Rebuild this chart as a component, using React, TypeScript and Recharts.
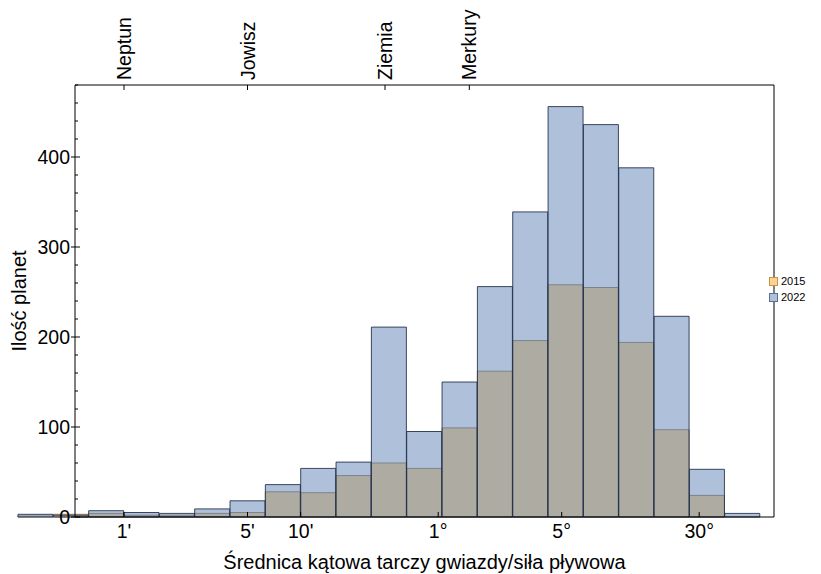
import React from 'react';
import { BarChart, Bar, XAxis, YAxis, Legend, Label } from 'recharts';

// histogram bins: centres in log10(arcmin), width 0.2
const binCenters = [-0.5, -0.3, -0.1, 0.1, 0.3, 0.5, 0.7, 0.9, 1.1, 1.3, 1.5, 1.7, 1.9, 2.1, 2.3, 2.5, 2.7, 2.9, 3.1, 3.3, 3.5];
const counts2015 = [1, 3, 4, 2, 2, 4, 5, 28, 27, 46, 60, 54, 99, 162, 196, 258, 255, 194, 97, 24, 0];
const counts2022 = [3, 2, 7, 5, 4, 9, 18, 36, 54, 61, 211, 95, 150, 256, 339, 456, 436, 388, 223, 53, 4];

const angleTicksArcmin = [1, 5, 10, 60, 300, 1800];
const angleTickLabels = ["1'", "5'", "10'", '1°', '5°', '30°'];

const planetArcmin = [1, 5, 30, 90];
const planetNames = ['Neptun', 'Jowisz', 'Ziemia', 'Merkury'];

const countTicks = [0, 20, 40, 60, 80, 100, 120, 140, 160, 180, 200, 220, 240, 260, 280, 300, 320, 340, 360, 380, 400, 420, 440, 460, 480];

const seriesNames = ['2015', '2022'];

const data = binCenters.map((c, i) => ({
  bin: c,
  y2015: counts2015[i],
  y2022: counts2022[i],
}));

const xDomain = [-0.2773, 3.6786];
const FONT = '"Liberation Sans", Arial, sans-serif';

const PlanetTick = (props: any) => {
  const { x, y, index } = props;
  return (
    <text
      transform={`translate(${x},${y}) rotate(-90)`}
      dy="0.36em"
      textAnchor="start"
      fontSize={19.5}
      fill="#000"
    >
      {planetNames[index]}
    </text>
  );
};

const CountTick = (props: any) => {
  const { x, y, payload } = props;
  const major = payload.value % 100 === 0;
  return (
    <g>
      <line
        x1={major ? x + 1 : x + 5}
        x2={major ? x + 10 : x + 8}
        y1={y}
        y2={y}
        stroke="#000"
      />
      {major && (
        <text x={x} y={y} dy="0.36em" textAnchor="end" fontSize={19.5} fill="#000">
          {payload.value}
        </text>
      )}
    </g>
  );
};

const LegendBox = () => (
  <div style={{ fontFamily: FONT, fontSize: 11, color: '#000' }}>
    {seriesNames.map((name, i) => (
      <div key={name} style={{ display: 'flex', alignItems: 'center', height: 16 }}>
        <span
          style={{
            display: 'inline-block',
            width: 7,
            height: 7,
            marginRight: 3,
            background: i === 0 ? '#fdd48f' : '#aec0da',
            border: i === 0 ? '1px solid #c8924a' : '1px solid #5a6f90',
          }}
        />
        {name}
      </div>
    ))}
  </div>
);

export default function App() {
  return (
    <div style={{ fontFamily: FONT, width: 821, height: 574 }}>
      <style>{'body{margin:0} .recharts-bar, .recharts-bar * { clip-path: none !important; }'}</style>
      <BarChart
        width={821}
        height={574}
        data={data}
        margin={{ top: 0, right: 0, bottom: 0, left: 0 }}
        barCategoryGap={0}
        barGap={0}
      >
        <XAxis
          xAxisId="top"
          orientation="top"
          type="number"
          dataKey="bin"
          domain={xDomain}
          allowDataOverflow
          ticks={planetArcmin.map((v) => Math.log10(v))}
          interval={0}
          height={85}
          tickSize={-5}
          tickMargin={10}
          tick={<PlanetTick />}
          stroke="#000"
        />
        <XAxis
          xAxisId="a"
          type="number"
          dataKey="bin"
          domain={xDomain}
          allowDataOverflow
          ticks={angleTicksArcmin.map((v) => Math.log10(v))}
          tickFormatter={(v: number, i: number) => angleTickLabels[i]}
          interval={0}
          height={57}
          tickSize={-5}
          tickMargin={12.5}
          tick={{ fontSize: 19.5, fill: '#000' }}
          stroke="#000"
        >
          <Label
            content={(p: any) => (
              <text
                x={p.viewBox.x + p.viewBox.width / 2}
                y={569}
                textAnchor="middle"
                fontSize={20}
                fill="#000"
              >
                Średnica kątowa tarczy gwiazdy/siła pływowa
              </text>
            )}
          />
        </XAxis>
        <XAxis
          xAxisId="b"
          type="number"
          dataKey="bin"
          domain={xDomain}
          allowDataOverflow
          hide
        />
        <YAxis
          yAxisId="left"
          type="number"
          domain={[0, 480]}
          ticks={countTicks}
          interval={0}
          width={75}
          tickSize={0}
          tickMargin={5}
          tickLine={false}
          tick={<CountTick />}
          stroke="#000"
        >
          <Label
            content={(p: any) => (
              <text
                transform={`translate(26,${p.viewBox.y + p.viewBox.height / 2}) rotate(-90)`}
                textAnchor="middle"
                fontSize={20}
                fill="#000"
              >
                Ilość planet
              </text>
            )}
          />
        </YAxis>
        <YAxis
          yAxisId="right"
          orientation="right"
          type="number"
          domain={[0, 480]}
          width={47}
          tick={false}
          tickLine={false}
          stroke="#000"
        />
        <Legend
          content={<LegendBox />}
          layout="horizontal"
          verticalAlign="middle"
          align="center"
          wrapperStyle={{ left: 769, top: 273, width: 52 }}
        />
        <Bar
          xAxisId="a"
          yAxisId="left"
          dataKey="y2015"
          name="2015"
          fill="#fed591"
          stroke="#9c8460"
          strokeWidth={1}
          isAnimationActive={false}
        />
        <Bar
          xAxisId="b"
          yAxisId="left"
          dataKey="y2022"
          name="2022"
          fill="#5e81b5"
          fillOpacity={0.5}
          stroke="#1e2c44"
          strokeOpacity={0.85}
          strokeWidth={1}
          isAnimationActive={false}
        />
      </BarChart>
    </div>
  );
}
